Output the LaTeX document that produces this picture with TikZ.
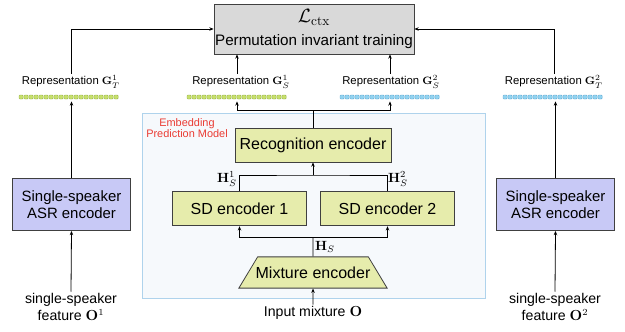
\documentclass[tikz,border=0pt]{standalone}
\usepackage{amsmath}
\usepackage[no-math]{fontspec}
\setmainfont{Liberation Sans}
\usetikzlibrary{shapes.geometric,arrows.meta,positioning,calc}

\definecolor{encfill}{HTML}{E6ECAC}
\definecolor{asrfill}{HTML}{C8C9F6}
\definecolor{pitfill}{HTML}{D9D9D9}
\definecolor{embline}{HTML}{AFD3EC}
\definecolor{embfill}{HTML}{F6F9FC}
\definecolor{embred}{HTML}{EA3B33}
\definecolor{cellgreen}{HTML}{C6DF6C}
\definecolor{cellgreenline}{HTML}{98B247}
\definecolor{cellblue}{HTML}{92D3F0}
\definecolor{cellblueline}{HTML}{5EA9D3}

\begin{document}
\begin{tikzpicture}[x=0.75pt,y=-0.75pt,line width=0.6pt,
  arr/.style={-{Stealth[length=3.2pt,width=2.6pt]}},
  enc/.style={draw=black!75,fill=encfill,inner sep=0pt,font=\fontsize{12}{14}\selectfont},
  asr/.style={draw=black!75,fill=asrfill,inner sep=0pt,align=center,
    minimum width=88pt,minimum height=39pt,font=\fontsize{11.2}{13}\selectfont},
  pitbox/.style={draw=black!75,fill=pitfill,inner sep=0pt,align=center,
    minimum width=150pt,minimum height=37.5pt,font=\fontsize{11.4}{17}\selectfont},
  replabel/.style={inner sep=1pt,font=\fontsize{8.5}{10}\selectfont},
  bar/.style={inner sep=0pt,minimum width=75pt,minimum height=3.75pt},
  cell/.style={line width=0.3pt,rounded corners=0.7pt},
  inlabel/.style={inner sep=1pt,align=center,font=\fontsize{10.6}{12.5}\selectfont},
  hlabel/.style={inner sep=0pt,font=\fontsize{10}{12}\selectfont}]

\useasboundingbox (0,0) rectangle (625,332);

% embedding prediction model frame
\draw[draw=embline,fill=embfill] (142,113) rectangle (485,298);
\node[inner sep=0pt,align=center,text=embred,font=\fontsize{8.2}{8.6}\selectfont]
  (embname) at (187,128) {Embedding\\Prediction Model};

% loss on top
\node[pitbox] (pit) at (314,29) {{\fontsize{14}{16}\selectfont$\mathcal{L}_{\mathrm{ctx}}$}\\Permutation invariant training};

% representations
\node[replabel] (repT1) at (71,82) {Representation $\mathbf{G}_T^1$};
\node[replabel] (repS1) at (241,82) {Representation $\mathbf{G}_S^1$};
\node[replabel] (repS2) at (391,82) {Representation $\mathbf{G}_S^2$};
\node[replabel] (repT2) at (554,82) {Representation $\mathbf{G}_T^2$};
\node[bar] (barT1) at (69,97) {};
\node[bar] (barS1) at (237,97) {};
\node[bar] (barS2) at (390,97) {};
\node[bar] (barT2) at (553,97) {};
\foreach \b/\c/\l in {barT1/cellgreen/cellgreenline,barS1/cellgreen/cellgreenline,
                      barS2/cellblue/cellblueline,barT2/cellblue/cellblueline}
  \foreach \i in {0,...,19}
    \draw[cell,draw=\l,fill=\c] ($(\b.west)+(\i*5+0.4,-2)$) rectangle ++(4.2,4);

% encoders
\node[enc,minimum width=117pt,minimum height=25.5pt] (rec) at (313,145) {Recognition encoder};
\node[enc,minimum width=101pt,minimum height=26pt] (sd1) at (239.5,208.5) {SD encoder 1};
\node[enc,minimum width=101pt,minimum height=26pt] (sd2) at (387.5,208.5) {SD encoder 2};
\node[enc,trapezium,trapezium left angle=59,trapezium right angle=59,
  inner xsep=-1.5pt,inner ysep=7.3pt] (mix) at (313,272.5) {Mixture encoder};

\node[asr] (asr1) at (71.5,204.5) {Single-speaker\\ASR encoder};
\node[asr] (asr2) at (555.5,204.5) {Single-speaker\\ASR encoder};

% inputs
\node[inlabel] (feat1) at (71,307) {single-speaker\\feature $\mathbf{O}^1$};
\node[inlabel] (feat2) at (555,307) {single-speaker\\feature $\mathbf{O}^2$};
\node[inlabel] (mixin) at (313,313) {Input mixture $\mathbf{O}$};

% branch points
\coordinate (recsplit) at (313,110);
\coordinate (sdjoin) at (313,175);
\coordinate (mixsplit) at (313,237);

\node[hlabel] (hs1) at (227,179) {$\mathbf{H}_S^1$};
\node[hlabel] (hs2) at (398,179) {$\mathbf{H}_S^2$};
\node[hlabel] (hs) at (325,247) {$\mathbf{H}_S$};

% connectors
\draw[arr] (repT1.north) |- (pit.west);
\draw[arr] (repT2.north) |- (pit.east);
\draw[arr] (barS1 |- repS1.north) -- (barS1 |- pit.south);
\draw[arr] (barS2 |- repS2.north) -- (barS2 |- pit.south);
\draw (rec.north) -- (recsplit);
\draw[arr] (recsplit) -| ($(barS1.south)+(0,1.5)$);
\draw[arr] (recsplit) -| ($(barS2.south)+(0,1.5)$);
\draw[arr] (asr1.north) -- ($(asr1.north |- barT1.south)+(0,1.5)$);
\draw[arr] (asr2.north) -- ($(asr2.north |- barT2.south)+(0,1.5)$);
\draw (sd1.north) |- (sdjoin) -| (sd2.north);
\draw[arr] (sdjoin) -- (rec.south);
\draw (mix.north) -- (mixsplit);
\draw[arr] (mixsplit) -| (sd1.south);
\draw[arr] (mixsplit) -| (sd2.south);
\draw[arr] (mixin.north) -- (mix.south);
\draw[arr] (feat1.north) -- (asr1.south);
\draw[arr] (feat2.north) -- (asr2.south);
\end{tikzpicture}
\end{document}
